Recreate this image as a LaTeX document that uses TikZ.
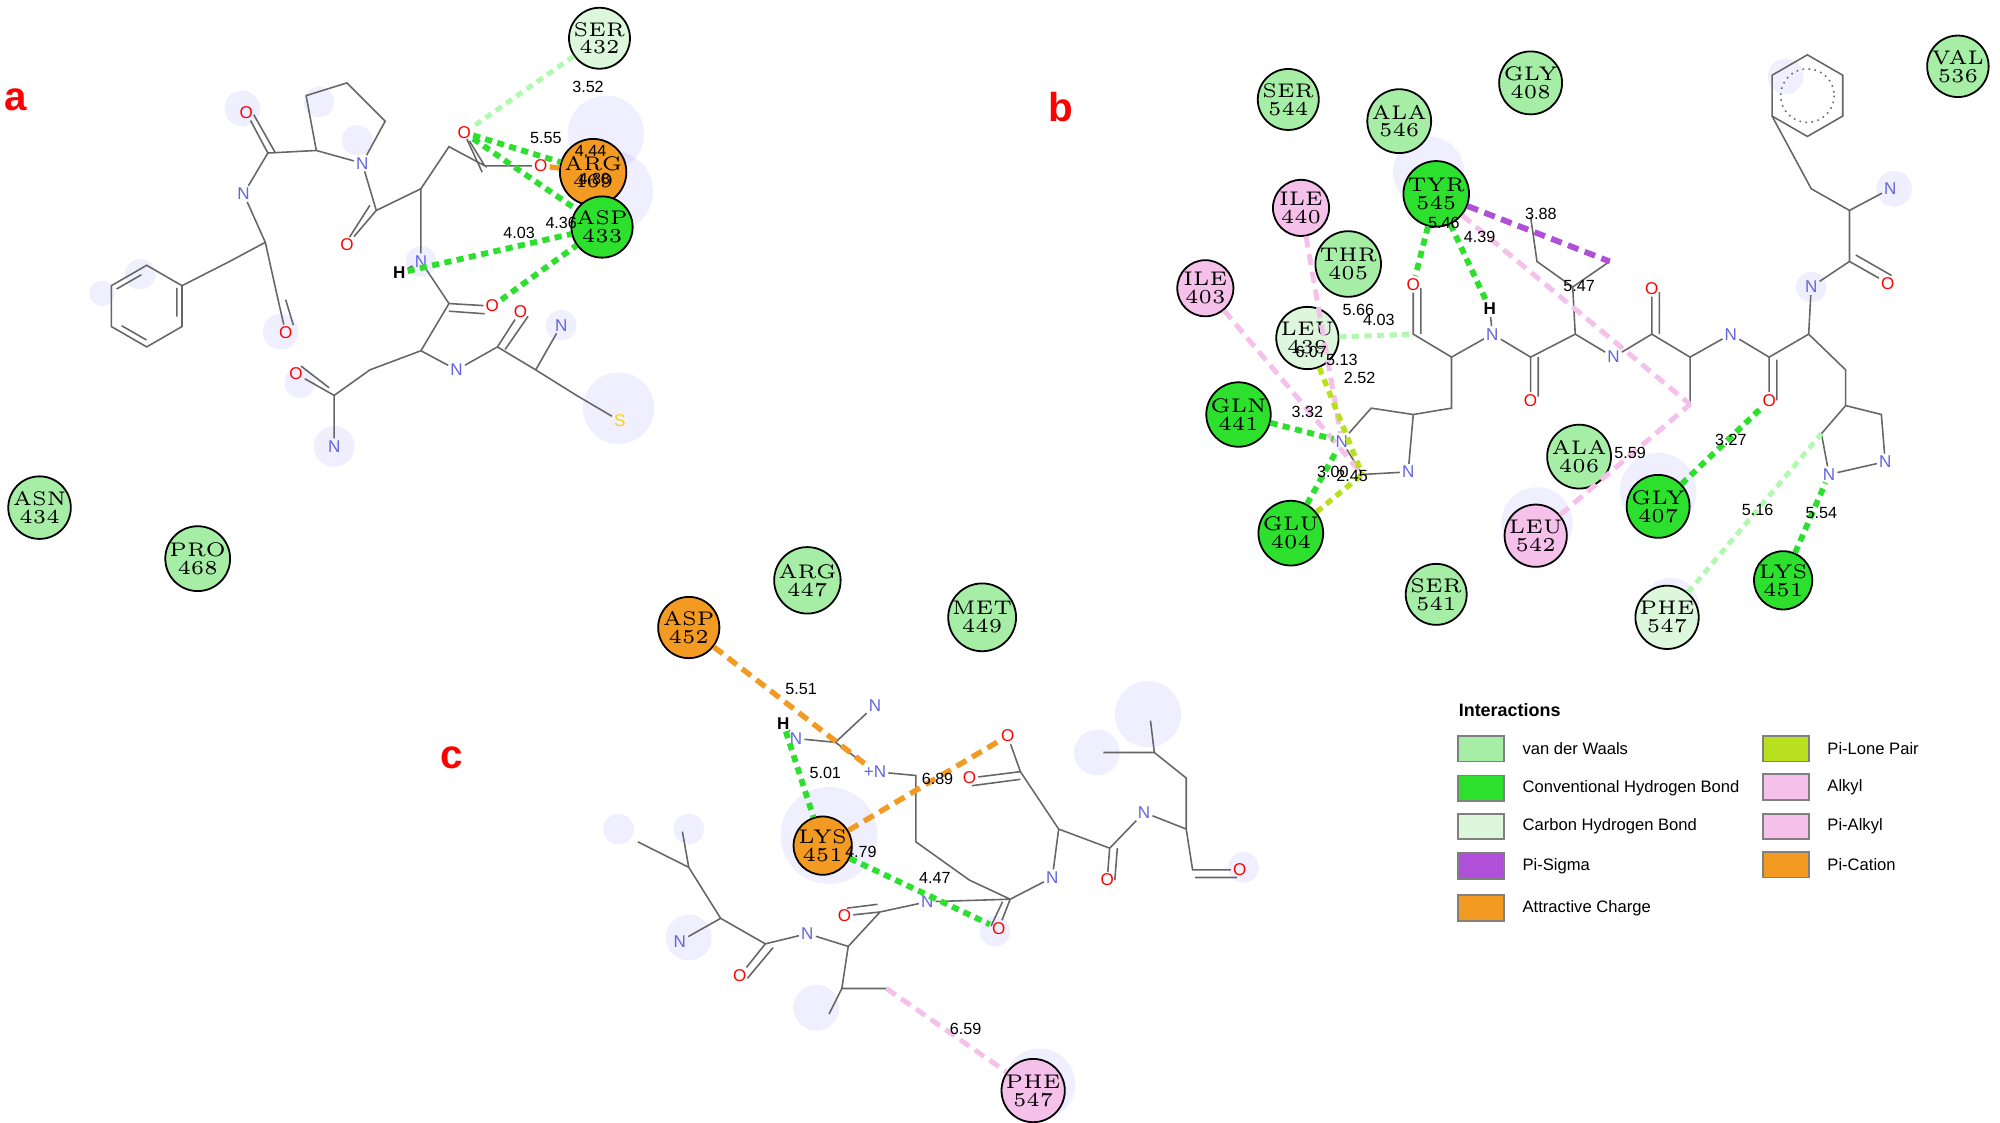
\documentclass[tikz,border=0pt]{standalone}
\usepackage{fontspec}
\newfontfamily\lsans{Liberation Sans}
\usetikzlibrary{shapes.geometric,calc}
\definecolor{vdw}{HTML}{A6EDA6}
\definecolor{chb}{HTML}{2EE02E}
\definecolor{cbh}{HTML}{DDF7DD}
\definecolor{psig}{HTML}{B050D8}
\definecolor{att}{HTML}{F29A22}
\definecolor{plp}{HTML}{B8E01E}
\definecolor{alk}{HTML}{F5C0EA}
\definecolor{natom}{HTML}{6464E0}
\tikzset{
 x=0.01cm,y=-0.01cm,
 res/.style={circle,draw=black,line width=0.4pt,minimum size=0.44cm,inner sep=0pt,align=center,font=\fontsize{4.4}{4}\selectfont},
 bond/.style={draw=gray!80!black,line width=0.35pt},
 atm/.style={inner sep=0.3pt,font=\lsans\fontsize{3.8}{4}\selectfont},
 dist/.style={inner sep=0.5pt,font=\lsans\fontsize{3.6}{4}\selectfont},
 hb/.style={draw=chb,line width=1.3pt,dash pattern=on 1.6pt off 1.2pt},
 lhb/.style={draw=cbh!80!green,line width=1.1pt,dash pattern=on 1.6pt off 1.2pt},
 orl/.style={draw=att,line width=1.2pt,dash pattern=on 2.5pt off 1.5pt},
 pkl/.style={draw=alk,line width=1.1pt,dash pattern=on 2.5pt off 1.5pt},
 pul/.style={draw=psig,line width=1.3pt,dash pattern=on 2.5pt off 1.5pt},
 lml/.style={draw=plp,line width=1.2pt,dash pattern=on 1.6pt off 1.2pt},
 halo/.style={fill=blue!60,opacity=0.1,draw=none},
 panel/.style={text=red,font=\lsans\bfseries\fontsize{9}{9}\selectfont},
 sw/.style={draw=gray,line width=0.4pt,minimum width=0.36cm,minimum height=0.2cm,inner sep=0pt},
 lg/.style={anchor=west,inner sep=0pt,font=\lsans\fontsize{3.7}{4}\selectfont}
}
\begin{document}
\begin{tikzpicture}
\useasboundingbox (0,0) rectangle (1568,880);
% halos
\foreach \p/\r in {{(190,85)}/14,{(250,80)}/12,{(280,110)}/12,{(110,215)}/12,{(80,230)}/10,{(220,260)}/14,{(235,300)}/12,{(262,350)}/16,{(330,205)}/12,{(485,320)}/28,{(440,255)}/12,{(475,105)}/30,{(480,150)}/32,{(1400,60)}/14,{(1485,148)}/14,{(1420,225)}/12,{(1120,135)}/28,{(1300,385)}/30,{(1205,410)}/28,{(1310,475)}/22,{(650,655)}/38,{(640,790)}/18,{(540,735)}/18,{(485,650)}/12,{(540,650)}/12,{(900,560)}/26,{(860,590)}/18,{(975,680)}/12,{(815,850)}/28,{(780,730)}/12}
  \fill[halo] \p circle[radius=\r];
% ---------- panel a molecule
\foreach \i in {0,...,5}{\coordinate (pa\i) at ($(115,240)+(\i*60+30:32 and -32)$);}
\draw[bond] (pa0)--(pa1)--(pa2)--(pa3)--(pa4)--(pa5)--cycle;
\draw[bond] ($(pa1)!0.15!(pa2)+(0,5)$)--($(pa1)!0.85!(pa2)+(0,5)$) ($(pa3)!0.15!(pa4)+(4,-3)$)--($(pa3)!0.85!(pa4)+(4,-3)$) ($(pa5)!0.15!(pa0)+(-4,-3)$)--($(pa5)!0.85!(pa0)+(-4,-3)$);
\coordinate (a1) at (180,205); \coordinate (a2) at (208,190); \coordinate (a3) at (218,235);
\node[atm,text=natom] (aN1) at (191,152) {N}; \node[atm,text=red] (aO1) at (224,261) {O};
\coordinate (a4) at (210,120); \node[atm,text=red] (aO2) at (193,88) {O};
\coordinate (p1) at (248,118); \coordinate (p2) at (240,75); \coordinate (p3) at (272,65); \coordinate (p4) at (302,95);
\node[atm,text=natom] (aN2) at (284,128) {N};
\coordinate (a5) at (295,165); \node[atm,text=red] (aO3) at (272,192) {O};
\coordinate (a6) at (330,148); \coordinate (a7) at (352,115); \coordinate (a8) at (380,130);
\node[atm,text=red] (aO4) at (364,104) {O}; \node[atm,text=red] (aO5) at (424,130) {O};
\node[atm,text=natom] (aN3) at (330,205) {N}; \node[atm] (aH) at (313,214) {\textbf{H}};
\coordinate (a9) at (352,238); \node[atm,text=red] (aO6) at (386,240) {O};
\coordinate (a10) at (330,275); \node[atm,text=natom] (aN4) at (358,290) {N};
\coordinate (a11) at (390,272); \node[atm,text=red] (aO7) at (408,244) {O};
\coordinate (a12) at (420,290); \node[atm,text=natom] (aN5) at (440,255) {N};
\coordinate (a13) at (452,310); \node[atm,text=yellow!70!orange] (aS) at (486,330) {S};
\coordinate (a14) at (290,290); \coordinate (a15) at (262,310);
\node[atm,text=red] (aO8) at (232,293) {O}; \node[atm,text=natom] (aN6) at (262,350) {N};
\draw[bond] (pa0)--(a1)--(a2)--(a3)--(aO1) (a2)--(aN1)--(a4)--(aO2) (a4)--(p1)--(p2)--(p3)--(p4)--(aN2)--(p1)
 (aN2)--(a5)--(aO3) (a5)--(a6)--(a7)--(a8)--(aO4) (a8)--(aO5) (a6)--(aN3)--(aH) (aN3)--(a9)--(aO6) (a9)--(a10)--(aN4)--(a11)--(aO7)
 (a11)--(a12)--(aN5) (a12)--(a13)--(aS) (a10)--(a14)--(a15)--(aO8) (a15)--(aN6);
\draw[bond] ($(a3)+(6,0)$)--($(aO1)+(6,-6)$) ($(aO2)+(6,2)$)--($(a4)+(6,0)$) ($(a5)+(-5,-4)$)--($(aO3)+(2,-6)$) ($(a8)+(-2,5)$)--($(aO4)+(2,5)$) ($(a9)+(0,6)$)--($(aO6)+(-6,6)$) ($(a11)+(6,2)$)--($(aO7)+(6,4)$) ($(a15)+(-4,-6)$)--($(aO8)+(4,-6)$);
% residues a
\node[res,fill=cbh] (aSER) at (470,30) {SER\\432};
\node[res,fill=att] (aARG) at (465,135) {ARG\\469};
\node[res,fill=chb] (aASP) at (472,178) {ASP\\433};
\node[res,fill=vdw] (aASN) at (31,398) {ASN\\434};
\node[res,fill=vdw] (aPRO) at (155,438) {PRO\\468};
\draw[lhb] (aSER)--(aO4);
\draw[hb] (aO4)--(aARG); \draw[orl] (aO5)--(aARG);
\draw[hb] (aO4)--(aASP); \draw[hb] (aH)--(aASP); \draw[hb] (aO6)--(aASP);
\node[dist] at (461,68) {3.52}; \node[dist] at (428,108) {5.55}; \node[dist] at (463,118) {4.44};
\node[dist] at (466,140) {4.88}; \node[dist] at (407,183) {4.03}; \node[dist] at (440,175) {4.36};
% ---------- panel b molecule
\foreach \i in {0,...,5}{\coordinate (pb\i) at ($(1417,75)+(\i*60+30:32 and -32)$);}
\draw[bond] (pb0)--(pb1)--(pb2)--(pb3)--(pb4)--(pb5)--cycle;
\draw[bond,densely dotted] (1417,75) circle[radius=21];
\coordinate (b1) at (1420,148); \coordinate (b2) at (1450,165); \node[atm,text=natom] (bN1) at (1482,148) {N};
\coordinate (b3) at (1450,205); \node[atm,text=red] (bO1) at (1480,222) {O}; \node[atm,text=natom] (bN2) at (1420,225) {N};
\coordinate (b4) at (1418,262); \node[atm,text=red] (bO2) at (1387,314) {O}; \coordinate (b5) at (1387,280);
\coordinate (b6) at (1447,290); \coordinate (r1) at (1447,318); \coordinate (r2) at (1475,325);
\node[atm,text=natom] (bN3) at (1478,362) {N}; \node[atm,text=natom] (bN4) at (1434,372) {N}; \coordinate (r5) at (1428,340);
\node[atm,text=natom] (bN5) at (1357,262) {N}; \coordinate (b7) at (1325,280); \coordinate (b8) at (1325,317);
\coordinate (b9) at (1295,262); \node[atm,text=red] (bO3) at (1295,226) {O};
\node[atm,text=natom] (bN6) at (1265,280) {N}; \coordinate (b10) at (1235,262); \coordinate (b11) at (1233,225);
\coordinate (b12) at (1205,205); \coordinate (b13) at (1200,170); \coordinate (b14) at (1262,205);
\coordinate (b15) at (1200,280); \node[atm,text=red] (bO4) at (1200,314) {O};
\node[atm,text=natom] (bN7) at (1170,262) {N}; \node[atm] (bH) at (1168,242) {\textbf{H}};
\coordinate (b16) at (1138,280); \coordinate (b17) at (1108,262); \node[atm,text=red] (bO5) at (1108,223) {O};
\coordinate (b18) at (1138,320); \coordinate (q1) at (1108,325); \node[atm,text=natom] (bN8) at (1104,370) {N};
\coordinate (q3) at (1068,372); \node[atm,text=natom] (bN9) at (1052,346) {N}; \coordinate (q5) at (1075,320);
\draw[bond] (pb3)--(b1)--(b2)--(bN1) (b2)--(b3)--(bO1) (b3)--(bN2)--(b4)--(b5)--(bO2) (b4)--(b6)--(r1)--(r2)--(bN3)--(bN4)--(r5)--(r1)
 (b5)--(bN5)--(b7)--(b8) (b7)--(b9)--(bO3) (b9)--(bN6)--(b10)--(b11)--(b12)--(b13) (b11)--(b14) (b10)--(b15)--(bO4) (b15)--(bN7)--(bH)
 (bN7)--(b16)--(b17)--(bO5) (b16)--(b18)--(q1)--(bN8)--(q3)--(bN9)--(q5)--(q1);
\draw[bond] ($(b3)+(5,-5)$)--($(bO1)+(3,-6)$) ($(b5)+(6,2)$)--($(bO2)+(6,0)$) ($(b9)+(6,0)$)--($(bO3)+(6,3)$) ($(b15)+(6,0)$)--($(bO4)+(6,-3)$) ($(b17)+(6,0)$)--($(bO5)+(6,3)$);
% residues b
\node[res,fill=vdw] (bSER544) at (1010,78) {SER\\544};
\node[res,fill=vdw] (bALA546) at (1097,95) {ALA\\546};
\node[res,fill=vdw] (bGLY408) at (1200,65) {GLY\\408};
\node[res,fill=vdw] (bVAL536) at (1535,52) {VAL\\536};
\node[res,fill=alk] (bILE440) at (1020,163) {ILE\\440};
\node[res,fill=alk] (bILE403) at (945,226) {ILE\\403};
\node[res,fill=vdw] (bTHR405) at (1057,207) {THR\\405};
\node[res,fill=cbh] (bLEU439) at (1025,265) {LEU\\439};
\node[res,fill=chb] (bGLN441) at (971,325) {GLN\\441};
\node[res,fill=chb] (bGLU404) at (1012,418) {GLU\\404};
\node[res,fill=vdw] (bALA406) at (1238,358) {ALA\\406};
\node[res,fill=alk] (bLEU542) at (1204,420) {LEU\\542};
\node[res,fill=chb] (bGLY407) at (1300,397) {GLY\\407};
\node[res,fill=vdw] (bSER541) at (1126,466) {SER\\541};
\node[res,fill=cbh] (bPHE547) at (1307,484) {PHE\\547};
\node[res,fill=chb] (bLYS451) at (1398,455) {LYS\\451};
\node[res,fill=chb] (bTYR545) at (1126,152) {TYR\\545};
\draw[hb] (bTYR545)--(bO5); \draw[hb] (bTYR545)--(bH);
\draw[pul] (bTYR545)--(b14); \draw[pkl] (bTYR545)--(b8);
\draw[pkl] (bILE403)--(q3); \draw[pkl] (bILE440)--(bN9);
\draw[lhb] (bLEU439)--(b17); \draw[lml] (bLEU439)--(q3);
\draw[hb] (bGLN441)--(bN9); \draw[hb] (bGLU404)--(bN9); \draw[lml] (bGLU404)--(q3);
\draw[pkl] (bLEU542)--(b8); \draw[hb] (bGLY407)--(bO2);
\draw[lhb] (bPHE547)--(r5); \draw[hb] (bLYS451)--(bN4);
\node[dist] at (1208,168) {3.88}; \node[dist] at (1132,175) {5.46}; \node[dist] at (1160,186) {4.39};
\node[dist] at (1238,224) {5.47}; \node[dist] at (1065,243) {5.66}; \node[dist] at (1081,251) {4.03};
\node[dist] at (1028,276) {6.07}; \node[dist] at (1052,282) {5.13}; \node[dist] at (1066,296) {2.52};
\node[dist] at (1025,323) {3.32}; \node[dist] at (1045,370) {3.00}; \node[dist] at (1060,373) {2.45};
\node[dist] at (1278,355) {5.59}; \node[dist] at (1357,345) {3.27}; \node[dist] at (1378,400) {5.16}; \node[dist] at (1428,402) {5.54};
% ---------- panel c molecule
\node[atm] (cH) at (614,567) {\textbf{H}}; \node[atm,text=natom] (cN1) at (624,579) {N};
\coordinate (c1) at (655,582); \node[atm,text=natom] (cN2) at (686,553) {N}; \node[atm,text=natom] (cN3) at (686,605) {+N};
\coordinate (c2) at (718,608); \coordinate (c3) at (718,660); \coordinate (c4) at (760,690); \coordinate (c5) at (792,705);
\node[atm,text=red] (cO1) at (783,728) {O}; \node[atm,text=natom] (cN4) at (825,688) {N};
\coordinate (c6) at (830,650); \coordinate (c7) at (800,605);
\node[atm,text=red] (cO2) at (790,577) {O}; \node[atm,text=red] (cO3) at (760,610) {O};
\coordinate (c8) at (870,665); \node[atm,text=red] (cO4) at (868,690) {O}; \node[atm,text=natom] (cN5) at (897,637) {N};
\coordinate (c9) at (930,650); \coordinate (c10) at (935,682); \node[atm,text=red] (cO5) at (972,682) {O};
\coordinate (c11) at (930,610); \coordinate (c12) at (905,590); \coordinate (c13) at (902,565); \coordinate (c14) at (865,590);
\node[atm,text=natom] (cN6) at (727,707) {N}; \coordinate (c15) at (690,715); \node[atm,text=red] (cO6) at (662,718) {O};
\coordinate (c16) at (665,742); \node[atm,text=natom] (cN7) at (633,732) {N}; \coordinate (c17) at (600,740);
\node[atm,text=red] (cO7) at (580,765) {O}; \coordinate (c18) at (565,720); \node[atm,text=natom] (cN8) at (533,738) {N};
\coordinate (c19) at (540,680); \coordinate (c20) at (500,660); \coordinate (c21) at (535,652);
\coordinate (c22) at (660,775); \coordinate (c23) at (650,795); \coordinate (c24) at (695,775);
\draw[bond] (cH)--(cN1)--(c1)--(cN2) (c1)--(cN3)--(c2)--(c3)--(c4)--(c5)--(cO1) (c5)--(cN4)--(c6)--(c7)--(cO2) (c7)--(cO3)
 (c6)--(c8)--(cO4) (c8)--(cN5)--(c9)--(c10)--(cO5) (c9)--(c11)--(c12)--(c13) (c12)--(c14)
 (c5)--(cN6)--(c15)--(cO6) (c15)--(c16)--(cN7)--(c17)--(cO7) (c17)--(c18)--(cN8) (c18)--(c19)--(c20) (c19)--(c21)
 (c16)--(c22)--(c23) (c22)--(c24);
\draw[bond] ($(c5)+(-6,2)$)--($(cO1)+(-6,-2)$) ($(c7)+(0,6)$)--($(cO3)+(2,6)$) ($(c8)+(6,0)$)--($(cO4)+(6,0)$) ($(c10)+(2,6)$)--($(cO5)+(-2,6)$) ($(c15)+(-2,-6)$)--($(cO6)+(2,-6)$) ($(c17)+(6,3)$)--($(cO7)+(6,2)$);
% residues c
\node[res,fill=vdw] (cARG) at (633,455) {ARG\\447};
\node[res,fill=vdw] (cMET) at (770,484) {MET\\449};
\node[res,fill=att] (cASP) at (540,492) {ASP\\452};
\node[res,fill=att] (cLYS) at (645,663) {LYS\\451};
\node[res,fill=alk] (cPHE) at (810,855) {PHE\\547};
\draw[orl] (cASP)--(cN3); \draw[hb] (cH)--(cLYS); \draw[orl] (cLYS)--(cO2);
\draw[hb] (cLYS)--(cO1); \draw[pkl] (c24)--(cPHE);
\node[dist] at (628,540) {5.51}; \node[dist] at (647,606) {5.01}; \node[dist] at (735,611) {6.89};
\node[dist] at (675,668) {4.79}; \node[dist] at (733,688) {4.47}; \node[dist] at (757,807) {6.59};
% panel labels
\node[panel] at (12,78) {a}; \node[panel] at (832,84) {b}; \node[panel] at (354,594) {c};
% legend
\node[lg,font=\lsans\bfseries\fontsize{4}{4}\selectfont] at (1143,557) {Interactions};
\foreach \y/\c/\t in {587/vdw/van der Waals,618/chb/Conventional Hydrogen Bond,648/cbh/Carbon Hydrogen Bond,679/psig/Pi-Sigma,712/att/Attractive Charge}{
 \node[sw,fill=\c] at (1161,\y) {}; \node[lg] at (1193,\y) {\t};}
\foreach \y/\c/\t in {587/plp/Pi-Lone Pair,617/alk/Alkyl,648/alk/Pi-Alkyl,678/att/Pi-Cation}{
 \node[sw,fill=\c] at (1400,\y) {}; \node[lg] at (1432,\y) {\t};}
\end{tikzpicture}
\end{document}
